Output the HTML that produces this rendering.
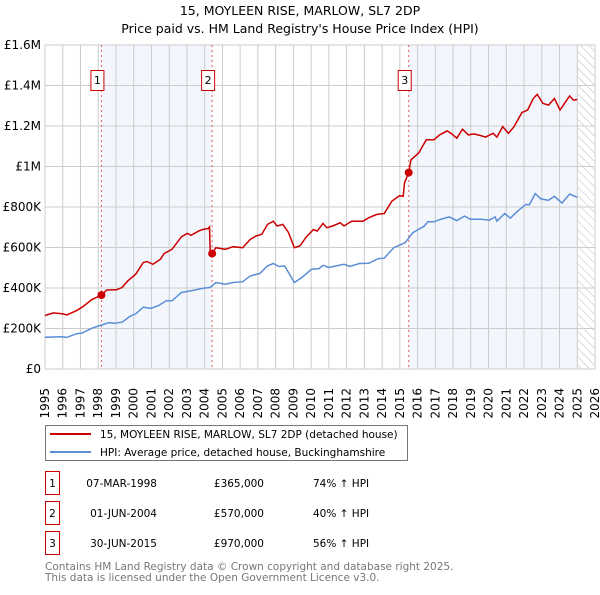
<!DOCTYPE html>
<html><head><meta charset="utf-8"><style>
body{margin:0;background:#fff;font-family:"Liberation Sans","DejaVu Sans",sans-serif;}
svg text{font-family:"DejaVu Sans","Liberation Sans",sans-serif;}
</style></head><body>
<svg id="c" width="600" height="590" xmlns="http://www.w3.org/2000/svg">
<defs><pattern id="hatch" width="6" height="6" patternUnits="userSpaceOnUse" patternTransform="rotate(-45)"><line x1="0" y1="0" x2="0" y2="6" stroke="#bbb" stroke-width="1"/></pattern></defs>
<text x="300" y="15" text-anchor="middle" font-size="12.5" fill="#000">15, MOYLEEN RISE, MARLOW, SL7 2DP</text>
<text x="300" y="33" text-anchor="middle" font-size="12.5" fill="#000">Price paid vs. HM Land Registry's House Price Index (HPI)</text>
<g id="plot"></g>
<g id="legend">
<rect x="45.5" y="425.5" width="362" height="35" fill="#fff" stroke="#777"/>
<line x1="50" y1="434" x2="91" y2="434" stroke="#cc0000" stroke-width="2"/>
<text x="100" y="438" font-size="10.5">15, MOYLEEN RISE, MARLOW, SL7 2DP (detached house)</text>
<line x1="50" y1="452" x2="91" y2="452" stroke="#5b8ed6" stroke-width="2"/>
<text x="100" y="456" font-size="10.5">HPI: Average price, detached house, Buckinghamshire</text>
</g>
<g id="table" font-size="10.5"></g>
<text x="45" y="570" font-size="10.5" fill="#777">Contains HM Land Registry data © Crown copyright and database right 2025.</text>
<text x="45" y="581" font-size="10.5" fill="#777">This data is licensed under the Open Government Licence v3.0.</text>
</svg>
<script>
const yTicks=[0,200,400,600,800,1000,1200,1400,1600];
const yTickLabels=["£0","£200K","£400K","£600K","£800K","£1M","£1.2M","£1.4M","£1.6M"];
const years=[1995,1996,1997,1998,1999,2000,2001,2002,2003,2004,2005,2006,2007,2008,2009,2010,2011,2012,2013,2014,2015,2016,2017,2018,2019,2020,2021,2022,2023,2024,2025,2026];
const saleLabels=["1","2","3"];
const saleYears=[1998.18,2004.42,2015.5];
const saleValues=[365,570,970];
const saleDates=["07-MAR-1998","01-JUN-2004","30-JUN-2015"];
const salePrices=["£365,000","£570,000","£970,000"];
const saleHpi=["74% ↑ HPI","40% ↑ HPI","56% ↑ HPI"];
const redYears=[1995,1995.47,1996.01,1996.23,1996.77,1997.09,1997.63,1998.18,1998.49,1999.03,1999.35,1999.68,2000.11,2000.54,2000.75,2001.08,2001.51,2001.72,2002.16,2002.69,2003.02,2003.23,2003.66,2003.88,2004.2,2004.27,2004.31,2004.42,2004.63,2005.17,2005.6,2006.14,2006.57,2006.9,2007.22,2007.54,2007.87,2008.08,2008.41,2008.73,2009.05,2009.37,2009.7,2010.13,2010.34,2010.67,2010.88,2011.21,2011.64,2011.85,2012.28,2012.93,2013.25,2013.69,2014.12,2014.55,2014.98,2015.19,2015.26,2015.5,2015.63,2016.06,2016.49,2016.92,2017.24,2017.67,2017.89,2018.21,2018.53,2018.86,2019.18,2019.61,2019.83,2020.26,2020.47,2020.8,2021.12,2021.44,2021.88,2022.2,2022.52,2022.74,2023.06,2023.38,2023.71,2024.03,2024.35,2024.57,2024.78,2025.0];
const redValues=[264,277,272,267,288,305,342,365,390,391,403,436,468,526,531,517,542,571,591,653,670,660,681,689,694,701,578,570,599,591,604,599,640,657,665,714,730,706,714,673,599,608,649,689,681,719,698,706,722,706,730,730,747,763,768,829,856,853,919,970,1033,1066,1132,1132,1156,1176,1164,1140,1184,1156,1161,1151,1145,1164,1145,1197,1164,1197,1266,1279,1336,1356,1312,1303,1336,1279,1320,1348,1328,1331];
const hpiYears=[1995,1995.91,1996.23,1996.77,1997.09,1997.63,1998.1,1998.6,1998.92,1999.35,1999.78,2000.11,2000.54,2000.97,2001.4,2001.83,2002.16,2002.69,2003.23,2003.88,2004.31,2004.63,2005.17,2005.6,2006.14,2006.57,2007.11,2007.54,2007.87,2008.19,2008.51,2009.05,2009.48,2010.02,2010.45,2010.67,2010.99,2011.42,2011.85,2012.18,2012.72,2013.25,2013.79,2014.12,2014.66,2015.3,2015.73,2016.38,2016.59,2016.92,2017.24,2017.78,2018.21,2018.64,2018.97,2019.61,2020.04,2020.37,2020.47,2020.91,2021.23,2021.66,2022.09,2022.31,2022.63,2022.95,2023.38,2023.71,2024.14,2024.57,2025.0];
const hpiValues=[157,159,156,174,178,201,215,229,226,231,260,272,305,300,313,337,337,378,386,398,403,427,419,427,431,460,472,509,521,506,509,427,452,493,496,512,501,509,517,506,521,522,545,547,599,624,673,706,727,727,738,751,733,755,740,740,735,751,730,768,745,781,812,812,866,840,833,853,820,864,848];

const NS="http://www.w3.org/2000/svg";
const L=45,R=595,T=45,B=369;
const x=v=>L+(v-1995)/31*(R-L);
const y=v=>B-v/1600*(B-T);
const plot=document.getElementById('plot');
function mk(tag,attrs,parent){const e=document.createElementNS(NS,tag);for(const k in attrs)e.setAttribute(k,attrs[k]);(parent||plot).appendChild(e);return e;}
let b1=mk('rect',{x:x(saleYears[0]),y:T,width:x(saleYears[1])-x(saleYears[0]),height:B-T,fill:'#eef3fc',opacity:0.7});


let b2=mk('rect',{x:x(saleYears[2]),y:T,width:x(2025.05)-x(saleYears[2]),height:B-T,fill:'#eef3fc',opacity:0.7});


let hz=mk('rect',{x:x(2025.05),y:T,width:R-x(2025.05),height:B-T,fill:'url(#hatch)'});


years.forEach(yr=>{const g=mk('line',{x1:x(yr),x2:x(yr),y1:T,y2:B,stroke:'#ccc','stroke-width':1});


const t=mk('text',{transform:`translate(${x(yr)+4},${B+19}) rotate(-90)`,'font-size':'12','text-anchor':'end'});t.textContent=yr;

});
yTicks.forEach((v,i)=>{const g=mk('line',{x1:L,x2:R,y1:y(v),y2:y(v),stroke:'#ccc','stroke-width':1});


const t=mk('text',{x:L-4,y:y(v)+4,'font-size':'12','text-anchor':'end'});t.textContent=yTickLabels[i];

});
saleYears.forEach((s,i)=>{const l=mk('line',{x1:x(s),x2:x(s),y1:T,y2:B,stroke:'#e06060','stroke-width':1,'stroke-dasharray':'2,3'});


const bx=mk('rect',{x:x(s)-10.5,y:70.5,width:13,height:20,fill:'#fff',stroke:'#cc0000'});


const t=mk('text',{x:x(s)-4,y:84,'font-size':'11','text-anchor':'middle'});t.textContent=saleLabels[i];

});
const pts=(xs,vs)=>xs.map((v,i)=>x(v).toFixed(1)+','+y(vs[i]).toFixed(1)).join(' ');
const hp=mk('polyline',{points:pts(hpiYears,hpiValues),fill:'none',stroke:'#5b8ed6','stroke-width':1.5});


const rp=mk('polyline',{points:pts(redYears,redValues),fill:'none',stroke:'#cc0000','stroke-width':1.5});


saleYears.forEach((s,i)=>{const c=mk('circle',{cx:x(s),cy:y(saleValues[i]),r:4,fill:'#cc0000'});

});
const tb=document.getElementById('table');
saleLabels.forEach((lab,i)=>{const yy=483+i*30;
const bx=mk('rect',{x:45.5,y:yy-11.5,width:14,height:23,fill:'#fff',stroke:'#cc0000'},tb);


const cols=[[52.5,lab,'middle'],[157,saleDates[i],'end'],[264,salePrices[i],'end'],[313,saleHpi[i],'start']];
const names=['table-row-number','table-date','table-price','table-hpi-change'];
cols.forEach((c,j)=>{const t=mk('text',{x:c[0],y:yy+4,'text-anchor':c[2]},tb);t.textContent=c[1];

});});
</script>
</body></html>
